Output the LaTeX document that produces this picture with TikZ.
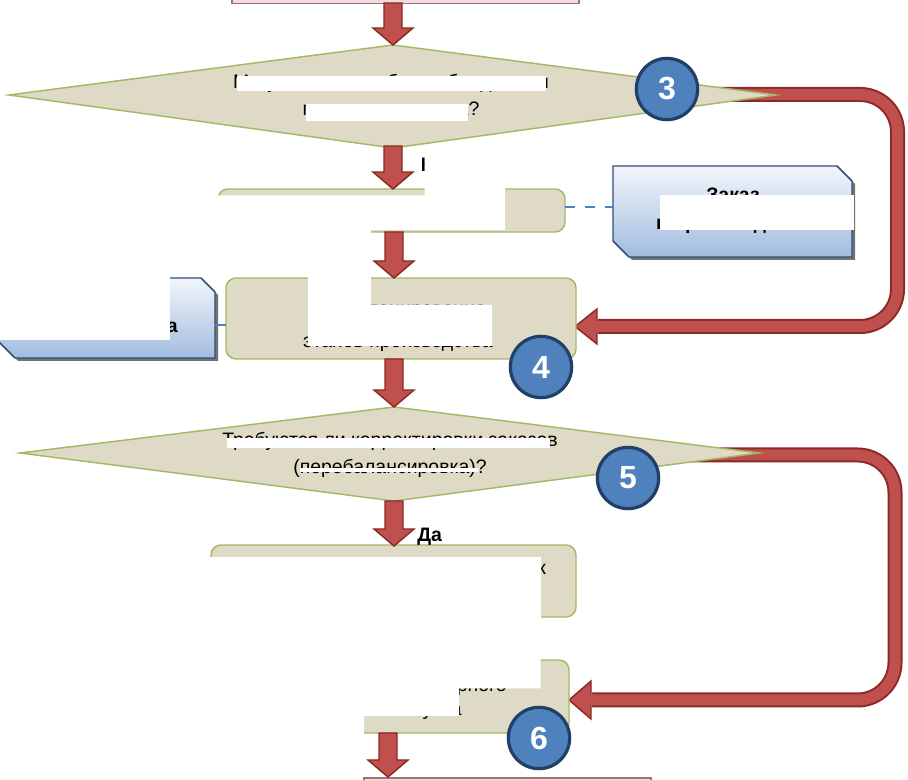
\documentclass[tikz,border=0pt]{standalone}
\usepackage{fontspec}
\setmainfont{Liberation Sans}
\usetikzlibrary{calc}
\definecolor{tanfill}{HTML}{DEDAC5}
\definecolor{tanline}{HTML}{A4B866}
\definecolor{redf}{HTML}{C0504D}
\definecolor{redd}{HTML}{8A2A27}
\definecolor{circf}{HTML}{4F81BD}
\definecolor{circd}{HTML}{213F67}
\definecolor{bluetop}{HTML}{F2F6FB}
\definecolor{bluebot}{HTML}{A2BCDF}
\definecolor{blued}{HTML}{2E5078}
\definecolor{pinkf}{HTML}{F2DCDB}
\definecolor{pinkd}{HTML}{9A7479}
\definecolor{conn}{HTML}{4F81BD}
\tikzset{
 tanbox/.style={fill=tanfill, draw=tanline, line width=1.1pt, rounded corners=7.5pt},
 diam/.style={fill=tanfill, draw=tanline, line width=1.1pt, line join=miter},
 redarrow/.style={fill=redf, draw=redd, line width=1.1pt, line join=miter},
 numcirc/.style={circle, fill=circf, draw=circd, line width=2.4pt, minimum size=46pt, inner sep=0pt, text=white, font=\fontsize{24pt}{24pt}\selectfont\bfseries},
 txt/.style={inner sep=0pt, font=\fontsize{14.6pt}{17pt}\selectfont},
 btxt/.style={inner sep=0pt, font=\fontsize{14.6pt}{17pt}\selectfont\bfseries},
 bluebox/.style={top color=bluetop, bottom color=bluebot, draw=blued, line width=1.1pt, line join=miter},
 shadowc/.style={fill=black!55},
 redact/.style={fill=white},
 pinkbox/.style={fill=pinkf, draw=pinkd, line width=1.1pt},
 loopout/.style={draw=redd, line width=11.25pt, rounded corners=28pt},
 loopin/.style={draw=redf, line width=8.25pt, rounded corners=28pt},
 connline/.style={draw=conn, line width=1.9pt},
}
\newcommand\mkdownarrow[2]{\draw[redarrow] let \p1=(#1), \p2=(#2) in
 (\x1-6.75pt,\y1) -- (\x1+6.75pt,\y1) -- (\x1+6.75pt,\y2+12.75pt) -- (\x1+15pt,\y2+12.75pt)
 -- (\x1,\y2) -- (\x1-15pt,\y2+12.75pt) -- (\x1-6.75pt,\y2+12.75pt) -- cycle;}
\begin{document}
\begin{tikzpicture}[x=0.75pt,y=-0.75pt]
\useasboundingbox (0,0) rectangle (908,780);
\clip (0,0) rectangle (908,780);
\fill[white] (0,0) rectangle (908,780);
% coordinates
\coordinate (topb) at (393,3);
\coordinate (d1t) at (393,45);
\coordinate (d1b) at (393,146);
\coordinate (b2t) at (393,189);
\coordinate (b2b) at (394,232);
\coordinate (b3t) at (394,278);
\coordinate (b3b) at (394,359);
\coordinate (d2t) at (394,407);
\coordinate (d2b) at (394,501);
\coordinate (b4t) at (394,546);
\coordinate (b5b) at (388,733);
\coordinate (bott) at (388,777);
\coordinate (l1s) at (690,94.5);
\coordinate (l1e) at (598,326.5);
\coordinate (l1tip) at (575,326.5);
\coordinate (l2s) at (690,455);
\coordinate (l2e) at (592,700);
\coordinate (l2tip) at (569,700);
% loop arrows
\draw[loopout] (l1s) -- (897.5,94.5) -- (897.5,326.5) -- (l1e);
\draw[loopin] (l1s) -- (897.5,94.5) -- (897.5,326.5) -- (l1e);
\draw[redarrow] (l1tip) -- (597,309) -- (597,344) -- cycle;
\draw[draw=redf, line width=8.25pt] (596,326.5) -- (601,326.5);
\draw[loopout] (l2s) -- (895,455) -- (895,700) -- (l2e);
\draw[loopin] (l2s) -- (895,455) -- (895,700) -- (l2e);
\draw[redarrow] (l2tip) -- (591,681) -- (591,719) -- cycle;
\draw[draw=redf, line width=8.25pt] (590,700) -- (595,700);
% top and bottom boxes
\draw[pinkbox] (232,-10) rectangle (579,3.5);
\draw[pinkbox] (364,778) rectangle (651,800);
% diamonds
\draw[diam] (9,95) -- (d1t) -- (776,95) -- (393,148) -- cycle;
\draw[diam] (20,453) -- (d2t) -- (759,453) -- (394,501) -- cycle;
% process boxes
\draw[tanbox] (218,189) rectangle (565,232);
\draw[tanbox] (226,278) rectangle (576,359);
\draw[tanbox] (211,545) rectangle (576,617);
\draw[tanbox] (208,660) rectangle (569,733);
% blue document boxes
\fill[shadowc] (616,169) -- (840,169) -- (855,184) -- (855,260) -- (632,260) -- (616,244) -- cycle;
\draw[bluebox] (613,166) -- (837,166) -- (852,181) -- (852,257) -- (629,257) -- (613,241) -- cycle;
\fill[shadowc] (1,281) -- (204,281) -- (218,295) -- (218,361) -- (18,361) -- (2,345) -- cycle;
\draw[bluebox] (-2,278) -- (201,278) -- (215,292) -- (215,358) -- (15,358) -- (-1,342) -- cycle;
% connectors
\coordinate (lbr) at (215,325);
\coordinate (b3l) at (226,325);
\draw[connline] (lbr) -- (b3l);
\coordinate (b2r) at (565,207);
\coordinate (rbl) at (613,207);
\draw[connline, dash pattern=on 7.5pt off 7.5pt] (b2r) -- (rbl);
% down arrows
\mkdownarrow{topb}{d1t}
\mkdownarrow{d1b}{b2t}
\mkdownarrow{b2b}{b3t}
\mkdownarrow{b3b}{d2t}
\mkdownarrow{d2b}{b4t}
\mkdownarrow{b5b}{bott}
% texts
\node[txt, anchor=base] (d1a) at (391,89) {Могут ли заказы быть объединены};
\node[txt, anchor=base] (d1c) at (391,116) {по срокам запуска?};
\node[btxt, anchor=base west] (net) at (420.5,172) {Нет};
\node[btxt, anchor=base] (z1) at (733,202) {Заказ};
\node[btxt, anchor=base] (z2) at (733,230) {в производство};
\node[btxt, anchor=base east] (lb) at (178,333) {мощностей цеха};
\node[txt, anchor=base] (p1) at (398,316) {Перепланирование};
\node[txt, anchor=base] (p2) at (398,348) {этапов производства};
\node[txt, anchor=base] (d2a) at (390,447) {Требуются ли корректировки заказов};
\node[txt, anchor=base] (d2c) at (390,474) {(перебалансировка)?};
\node[btxt, anchor=base west] (da) at (417,542) {Да};
\node[txt, anchor=base west] (k4) at (537,575) {к};
\node[txt, anchor=base east] (f1) at (507,692) {Формирование календарного};
\node[txt, anchor=base east] (f2) at (462,716) {графика запуска};
% white masks (edges follow the texts they hide)
\coordinate (m1a) at ([xshift=3pt]d1a.west);
\coordinate (m1b) at ([xshift=-2.5pt]d1a.east);
\coordinate (m2a) at ([xshift=2.5pt]d1c.west);
\coordinate (m2b) at ([xshift=-8.5pt]d1c.east);
\coordinate (m3a) at ([xshift=4pt]d2a.west);
\coordinate (m3b) at ([xshift=-6pt]d2a.east);
\fill[redact] (m1a |- 0,76) rectangle (m1b |- 0,91.5);
\fill[redact] (m2a |- 0,104.5) rectangle (m2b |- 0,121);
\fill[redact] (424.5,150) -- (505,150) -- (505,230) -- (371,230) -- (371,240) -- (200,240) -- (200,195.5) -- (424.5,195.5) -- cycle;
\fill[redact] (660,195) rectangle (853.5,230.5);
\fill[redact] (-5,270) rectangle (169.5,340);
\fill[redact] (308,276) -- (371,276) -- (371,305) -- (492,305) -- (492,346) -- (308,346) -- cycle;
\fill[redact] (m3a |- 0,438.5) rectangle (m3b |- 0,448);
\fill[redact] (300,468.5) rectangle (478,472);
\fill[redact] (195,557) rectangle (540.5,630);
\fill[redact] (195,650) -- (540.5,650) -- (540.5,688.5) -- (459,688.5) -- (459,716) -- (364,716) -- (364,745) -- (195,745) -- cycle;
% numbered circles
\node[numcirc] (c3) at (667,89) {3};
\node[numcirc] (c4) at (541,367) {4};
\node[numcirc] (c5) at (628,478) {5};
\node[numcirc] (c6) at (539,738) {6};
\end{tikzpicture}
\end{document}
